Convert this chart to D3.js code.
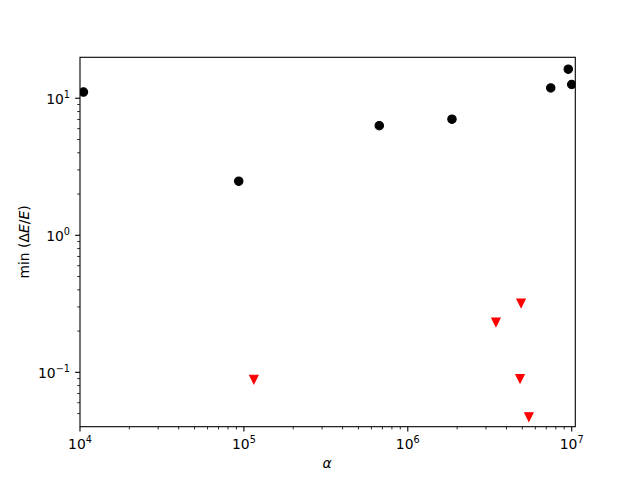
<!DOCTYPE html>
<html>
<head>
<meta charset="utf-8">
<script src="https://cdn.jsdelivr.net/npm/d3@7"></script>
<style>
  body { margin: 0; background: #fff; }
  text { font-family: "DejaVu Sans", sans-serif; fill: #000; }
</style>
</head>
<body>
<svg width="640" height="480"></svg>
<script>
// measured data (alpha, min dE/E)
var circleAlpha = [1.05e4, 9.3e4, 6.7e5, 1.86e6, 7.45e6, 9.53e6, 1.0e7];
var circleVal   = [11.1, 2.48, 6.31, 7.03, 11.9, 16.3, 12.6];
var triAlpha = [1.15e5, 4.91e6, 3.45e6, 4.84e6, 5.48e6];
var triVal   = [0.0886, 0.319, 0.232, 0.0898, 0.0472];
var xDecades = [4, 5, 6, 7];
var yDecades = [-1, 0, 1];

var svg = d3.select("svg"),
    axLeft = 80, axRight = 575.3, axTop = 57.3, axBottom = 426.7;

var x = d3.scaleLog().domain([1e4, 1.052e7]).range([axLeft, axRight]);
var y = d3.scaleLog().domain([0.0401, 19.9]).range([axBottom, axTop]);

svg.append("clipPath").attr("id", "plot")
  .append("rect")
    .attr("x", axLeft).attr("y", axTop)
    .attr("width", axRight - axLeft).attr("height", axBottom - axTop);

function minors(scale) {
  var d = scale.domain(), out = [];
  for (var e = Math.floor(Math.log10(d[0])); e <= Math.ceil(Math.log10(d[1])); e++) {
    for (var m = 2; m <= 9; m++) {
      var v = m * Math.pow(10, e);
      if (v >= d[0] && v <= d[1]) out.push(v);
    }
  }
  return out;
}

function supLabel(sel, e) {
  sel.append("tspan").text("10");
  sel.append("tspan")
    .attr("dy", -6).attr("font-size", 9.7)
    .text(String(e).replace("-", "\u2212"));
}

var axes = svg.append("g");

// x ticks
axes.selectAll(".xminor").data(minors(x)).enter().append("line")
    .attr("x1", d => x(d)).attr("x2", d => x(d))
    .attr("y1", axBottom).attr("y2", axBottom + 2.8)
    .attr("stroke", "#000").attr("stroke-width", 0.8);
axes.selectAll(".xmajor").data(xDecades).enter().append("line")
    .attr("x1", d => x(Math.pow(10, d))).attr("x2", d => x(Math.pow(10, d)))
    .attr("y1", axBottom).attr("y2", axBottom + 4.9)
    .attr("stroke", "#000").attr("stroke-width", 1.1);
axes.selectAll(".xlab").data(xDecades).enter().append("text")
    .attr("x", d => x(Math.pow(10, d)))
    .attr("y", 448.5)
    .attr("text-anchor", "middle")
    .attr("font-size", 13.9)
    .each(function(d) { supLabel(d3.select(this), d); });

// y ticks
axes.selectAll(".yminor").data(minors(y)).enter().append("line")
    .attr("y1", d => y(d)).attr("y2", d => y(d))
    .attr("x1", axLeft).attr("x2", axLeft - 2.8)
    .attr("stroke", "#000").attr("stroke-width", 0.8);
axes.selectAll(".ymajor").data(yDecades).enter().append("line")
    .attr("y1", d => y(Math.pow(10, d))).attr("y2", d => y(Math.pow(10, d)))
    .attr("x1", axLeft).attr("x2", axLeft - 4.9)
    .attr("stroke", "#000").attr("stroke-width", 1.1);
axes.selectAll(".ylab").data(yDecades).enter().append("text")
    .attr("x", 70)
    .attr("y", d => y(Math.pow(10, d)) + 6)
    .attr("text-anchor", "end")
    .attr("font-size", 13.9)
    .each(function(d) { supLabel(d3.select(this), d); });

// points
var plot = svg.append("g").attr("clip-path", "url(#plot)");

plot.selectAll("circle").data(circleAlpha).enter().append("circle")
    .attr("cx", d => x(d))
    .attr("cy", (d, i) => y(circleVal[i]))
    .attr("r", 4.2)
    .attr("fill", "#000").attr("stroke", "#000").attr("stroke-width", 1.1);

plot.selectAll(".tri").data(triAlpha).enter().append("path")
    .attr("d", "M0,4.2L-4.2,-4.2L4.2,-4.2Z")
    .attr("transform", (d, i) => "translate(" + x(d) + "," + y(triVal[i]) + ")")
    .attr("fill", "red").attr("stroke", "red").attr("stroke-width", 1.1)
    .attr("stroke-linejoin", "miter");

// frame
svg.append("rect")
    .attr("x", axLeft).attr("y", axTop)
    .attr("width", axRight - axLeft).attr("height", axBottom - axTop)
    .attr("fill", "none").attr("stroke", "#000").attr("stroke-width", 1.1);

// axis labels
svg.append("text")
    .attr("x", 327).attr("y", 468)
    .attr("text-anchor", "middle")
    .attr("font-size", 13.9)
    .attr("font-style", "italic")
    .text("\u03b1");

var yl = svg.append("text")
    .attr("transform", "translate(29," + ((axTop + axBottom) / 2) + ") rotate(-90)")
    .attr("text-anchor", "middle")
    .attr("font-size", 13.9);
yl.append("tspan").text("min (\u0394");
yl.append("tspan").attr("font-style", "italic").text("E");
yl.append("tspan").text("/");
yl.append("tspan").attr("font-style", "italic").text("E");
yl.append("tspan").text(")");
</script>
</body>
</html>
